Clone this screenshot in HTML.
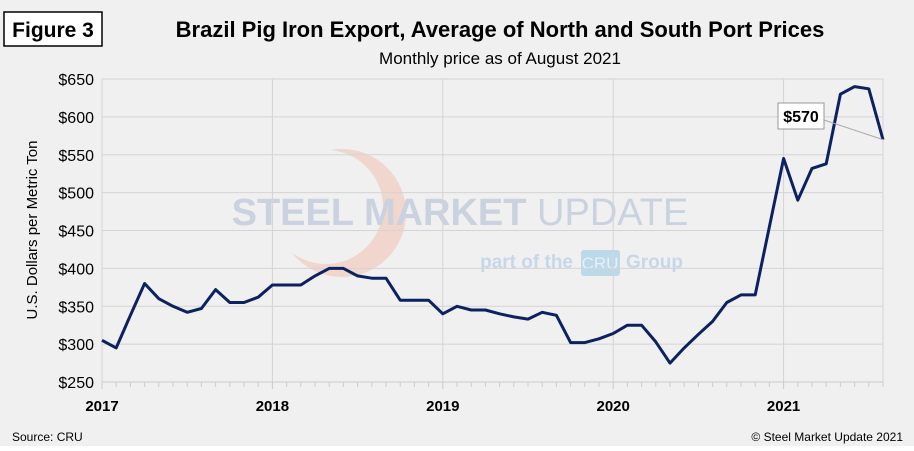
<!DOCTYPE html>
<html><head><meta charset="utf-8"><style>
body{margin:0;background:#fff;}
svg text{font-family:"Liberation Sans",sans-serif;}
</style></head><body>
<svg width="914" height="446" viewBox="0 0 914 446" xmlns="http://www.w3.org/2000/svg">
<rect x="0" y="0" width="914" height="446" fill="#f0f0f0"/>
<rect x="4" y="12" width="98" height="34" fill="#fff" stroke="#000" stroke-width="1.5"/>
<text x="53" y="37" font-size="21" font-weight="bold" text-anchor="middle">Figure 3</text>
<text x="500" y="37" font-size="22" font-weight="bold" text-anchor="middle">Brazil Pig Iron Export, Average of North and South Port Prices</text>
<text x="500" y="64" font-size="17" text-anchor="middle">Monthly price as of August 2021</text>
<g>
<circle cx="342" cy="213" r="64" fill="#f0d6cc"/>
<circle cx="326" cy="207" r="57" fill="#f0f0f0"/>
<text x="460" y="225" font-size="38" font-weight="bold" fill="#c9d2de" text-anchor="middle">STEEL MARKET <tspan font-weight="normal">UPDATE</tspan></text>
<text x="573" y="268" font-size="19" font-weight="bold" fill="#c7d7ea" text-anchor="end">part of the</text>
<rect x="581" y="250" width="39" height="26" rx="3" fill="#bcd9ea"/>
<text x="600" y="269" font-size="17" fill="#e6f0f6" text-anchor="middle">CRU</text>
<text x="626" y="268" font-size="19" font-weight="bold" fill="#c7d7ea">Group</text>
</g>
<g id="grid"></g>
<g id="axes"></g>
<text transform="translate(37,230) rotate(-90)" font-size="15" text-anchor="middle">U.S. Dollars per Metric Ton</text>
<path id="line" fill="none" stroke="#0c2160" stroke-width="3" stroke-linejoin="round"/>
<line id="callout" stroke="#aaa" stroke-width="1"/>
<rect x="778" y="103" width="46" height="26" fill="#fff" stroke="#999"/>
<text id="callout-text" x="801" y="122" font-size="16" font-weight="bold" text-anchor="middle">$570</text>
<text x="12" y="441" font-size="12">Source: CRU</text>
<text x="903" y="441" font-size="12" text-anchor="end">© Steel Market Update 2021</text>
</svg>
<script>
const yearLabels=["2017","2018","2019","2020","2021"];
const yTicks=[250,300,350,400,450,500,550,600,650];
const prices=[305,295,338,380,360,350,342,347,372,355,355,362,
378,378,378,390,400,400,390,387,387,358,358,358,
340,350,345,345,340,336,333,342,338,302,302,307,
314,325,325,303,275,295,313,330,355,365,365,455,
545,490,532,538,630,640,637,570];
const NS="http://www.w3.org/2000/svg";
const x0=102,xm=14.2,yb=382,yt=79;
const xs=i=>x0+i*xm;
const ys=v=>yb-(v-250)/(400)*(yb-yt);
const xEnd=883;
function mk(t,a,p){const e=document.createElementNS(NS,t);for(const k in a)e.setAttribute(k,a[k]);p.appendChild(e);return e;}
const grid=document.getElementById('grid'),axes=document.getElementById('axes');
yTicks.forEach(v=>{
 const l=mk('line',{x1:x0,x2:xEnd,y1:ys(v),y2:ys(v),stroke:'#d4d4d4','stroke-width':1},grid);
 
 
 const t=mk('text',{x:x0-8,y:ys(v)+6,'font-size':16,'text-anchor':'end'},axes);
 t.textContent='$'+v;
 
 
});
yearLabels.forEach((y,i)=>{
 const x=xs(i*12);
 const l=mk('line',{x1:x,x2:x,y1:yt,y2:yb+7,stroke:'#d4d4d4','stroke-width':1},grid);
 
 
 const t=mk('text',{x:x,y:yb+29,'font-size':15,'font-weight':'bold','text-anchor':'middle'},axes);
 t.textContent=y;
 
 
});
const r=mk('line',{x1:xEnd,x2:xEnd,y1:yt,y2:yb,stroke:'#d4d4d4'},grid);


for(let i=0;i<prices.length;i++){
 const t=mk('line',{x1:xs(i),x2:xs(i),y1:yb,y2:yb+(i%12===0?7:5),stroke:'#ccc'},axes);
 
 
}
const ax=mk('line',{x1:x0,x2:xEnd,y1:yb,y2:yb,stroke:'#ccc'},axes);


document.getElementById('line').setAttribute('d',prices.map((v,i)=>(i?'L':'M')+xs(i).toFixed(1)+' '+ys(v).toFixed(1)).join(''));
const last=prices.length-1,c=document.getElementById('callout');
c.setAttribute('x1',824);c.setAttribute('y1',120);c.setAttribute('x2',xs(last));c.setAttribute('y2',ys(prices[last]));
document.getElementById('callout-text').textContent='$'+prices[last];
</script>
</body></html>
